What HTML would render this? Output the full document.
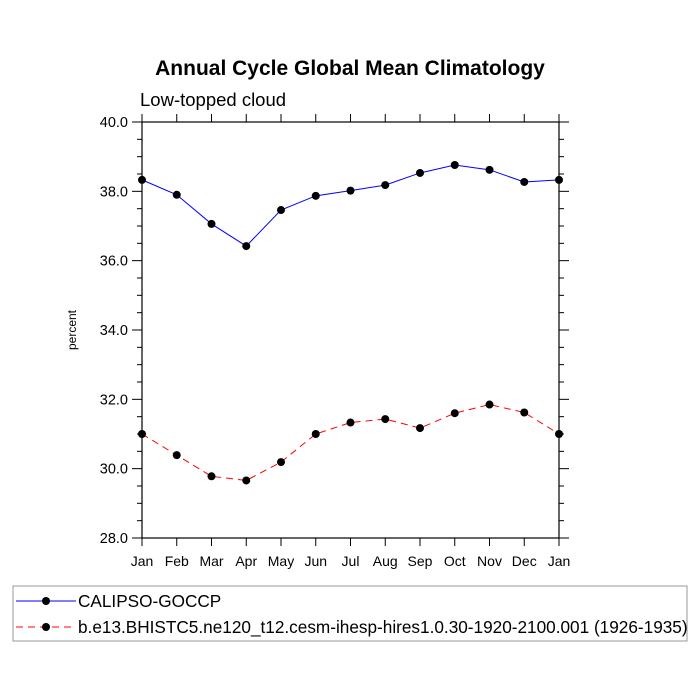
<!DOCTYPE html>
<html><head><meta charset="utf-8"><style>
body{margin:0;background:#fff;}
svg{display:block;font-family:"Liberation Sans",sans-serif;}
</style></head><body>
<svg id="chart" width="700" height="700" xmlns="http://www.w3.org/2000/svg">
<text x="350" y="75" text-anchor="middle" font-size="21" font-weight="bold">Annual Cycle Global Mean Climatology</text>
<text x="140" y="106" font-size="18.5">Low-topped cloud</text>
<text transform="translate(76,330) rotate(-90)" text-anchor="middle" font-size="12">percent</text>
<g id="axes"></g>
<g id="series"></g>
<g>
<rect x="13" y="586" width="674" height="55" fill="none" stroke="#999" stroke-width="1"/>
<g>
<line x1="16" y1="601" x2="76" y2="601" stroke="#0000ff" stroke-width="1"/>
<circle cx="46" cy="601" r="4" fill="#000"/>
<text x="78" y="607" font-size="17.2">CALIPSO-GOCCP</text>
</g>
<g>
<line x1="16" y1="627" x2="76" y2="627" stroke="#ff0000" stroke-width="1" stroke-dasharray="7,5"/>
<circle cx="46" cy="627" r="4" fill="#000"/>
<text x="78" y="633" font-size="17.2">b.e13.BHISTC5.ne120_t12.cesm-ihesp-hires1.0.30-1920-2100.001 (1926-1935)</text>
</g>
</g>
</svg>
<script>
const months = ["Jan","Feb","Mar","Apr","May","Jun","Jul","Aug","Sep","Oct","Nov","Dec","Jan"];
const calipso = [38.33,37.9,37.06,36.42,37.46,37.87,38.02,38.18,38.53,38.76,38.62,38.27,38.33];
const model = [31.0,30.39,29.78,29.66,30.19,31.0,31.33,31.43,31.17,31.6,31.85,31.62,31.0];
const yTicks = [28,30,32,34,36,38,40];
const X0=142,X1=559,Y0=538,Y1=122,YMIN=28,YMAX=40;
const xs=i=>X0+(X1-X0)*i/(months.length-1);
const ys=v=>Y0-(v-YMIN)/(YMAX-YMIN)*(Y0-Y1);
const NS="http://www.w3.org/2000/svg";
function mk(tag,attrs,parent){const e=document.createElementNS(NS,tag);for(const k in attrs)e.setAttribute(k,attrs[k]);parent.appendChild(e);return e;}
const ax=document.getElementById('axes');
const frame=mk('rect',{x:X0,y:Y1,width:X1-X0,height:Y0-Y1,fill:'none',stroke:'#000','stroke-width':1.2},ax);


months.forEach((m,i)=>{
  const x=xs(i);
  mk('line',{x1:x,y1:Y0,x2:x,y2:Y0+8,stroke:'#000'},ax);
  mk('line',{x1:x,y1:Y1,x2:x,y2:Y1-8,stroke:'#000'},ax);
  const t=mk('text',{x:x,y:Y0+28,'text-anchor':'middle','font-size':14},ax);
  t.textContent=m;
  
  
});
for(let v=YMIN;v<=YMAX+1e-9;v+=0.5){
  const y=ys(v);const major=Math.abs(v%2)<1e-9;const L=major?10:5;
  mk('line',{x1:X0-L,y1:y,x2:X0,y2:y,stroke:'#000'},ax);
  mk('line',{x1:X1,y1:y,x2:X1+L,y2:y,stroke:'#000'},ax);
}
yTicks.forEach(v=>{
  const t=mk('text',{x:X0-14,y:ys(v)+5,'text-anchor':'end','font-size':14.5},ax);
  t.textContent=v.toFixed(1);
  
  
});
const sg=document.getElementById('series');
function draw(vals,color,dash,name){
  const g=mk('g',{},sg);
  
  
  const p=mk('polyline',{points:vals.map((v,i)=>xs(i)+','+ys(v)).join(' '),fill:'none',stroke:color,'stroke-width':1,'stroke-dasharray':dash},g);
  
  
  vals.forEach((v,i)=>{
    const c=mk('circle',{cx:xs(i),cy:ys(v),r:4,fill:'#000'},g);
    
    
  });
}
draw(calipso,'#0000ff','none','calipso-series');
draw(model,'#ff0000','7,5','model-series');
</script>
</body></html>
